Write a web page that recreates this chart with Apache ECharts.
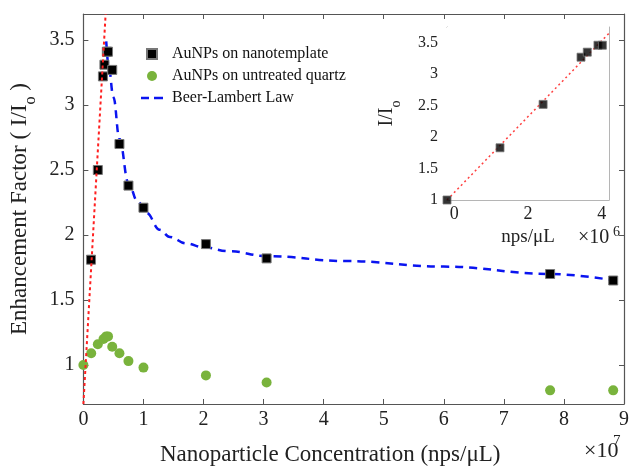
<!DOCTYPE html>
<html>
<head>
<meta charset="utf-8">
<script src="https://cdn.jsdelivr.net/npm/echarts@6/dist/echarts.min.js"></script>
<style>
html, body { margin: 0; padding: 0; background: #fff; }
#container { width: 632px; height: 471px; }
</style>
</head>
<body>
<div id="container"></div>
<script>
// main plot data (x in nps/uL)
var blackX = [1.27e6, 2.4e6, 3.25e6, 3.5e6, 3.9e6, 4.1e6, 4.8e6, 6.0e6, 7.5e6, 1.0e7, 2.04e7, 3.05e7, 7.77e7, 8.82e7];
var blackY = [1.81, 2.50, 3.22, 3.31, 3.41, 3.41, 3.27, 2.70, 2.38, 2.21, 1.93, 1.82, 1.70, 1.65];

var greenX = [0, 1.3e6, 2.4e6, 3.35e6, 3.8e6, 4.1e6, 4.8e6, 6.0e6, 7.5e6, 1.0e7, 2.04e7, 3.05e7, 7.77e7, 8.82e7];
var greenY = [1.00, 1.09, 1.16, 1.20, 1.22, 1.22, 1.14, 1.09, 1.03, 0.98, 0.92, 0.865, 0.805, 0.805];

var beerX = [3.8e6, 4.2e6, 5.0e6, 6.0e6, 7.5e6, 9.0e6, 1.05e7, 1.27e7, 1.44e7, 1.71e7, 2.0e7, 2.43e7, 3.05e7, 4.36e7, 6.0e7, 7.77e7, 8.85e7];
var beerY = [3.49, 3.30, 3.06, 2.74, 2.40, 2.26, 2.17, 2.04, 1.985, 1.935, 1.905, 1.875, 1.838, 1.80, 1.757, 1.70, 1.65];

var fitX = [0, 3.7e6];
var fitY = [0.70, 3.70];

var mainYTicks = [1, 1.5, 2, 2.5, 3, 3.5];

// inset data
var insetX = [-0.2e6, 1.24e6, 2.41e6, 3.44e6, 3.61e6, 3.9e6, 4.02e6];
var insetY = [1.00, 1.83, 2.52, 3.27, 3.35, 3.46, 3.46];

var insetFitX = [-0.2e6, 4.2e6];
var insetFitY = [1.00, 3.65];

var insetXTicks = [0, 2e6, 4e6];
var insetYTicks = [1, 1.5, 2, 2.5, 3, 3.5];

function zip(xs, ys) {
    return xs.map(function (x, i) { return [x, ys[i]]; });
}

var serif = 'Liberation Serif';
var axisCol = '#555';
var insetCol = '#b5b5b5';
var squareIcon = 'path://M0,0L10,0L10,10L0,10Z';
var dashIcon = 'path://M0,0L8,0L8,2.5L0,2.5Z M13,0L22,0L22,2.5L13,2.5Z';

function boxAxis(extra) {
    var base = {
        axisLine: { show: true, onZero: false, lineStyle: { color: axisCol, width: 1.2 } },
        axisTick: { show: true, inside: true, length: 5, lineStyle: { color: axisCol } },
        axisLabel: { show: false },
        splitLine: { show: false }
    };
    return Object.assign(base, extra);
}

const dom = document.getElementById('container');
const myChart = echarts.init(dom);

var option = {
    backgroundColor: '#fff',
    animation: false,
    grid: [
        { left: 83, top: 14, right: 4, bottom: 64 },
        { left: 447, top: 27, width: 162, height: 173, show: true, backgroundColor: '#fff', borderWidth: 0, z: 5 }
    ],
    legend: {
        data: [
            { name: 'AuNPs on nanotemplate', icon: squareIcon },
            { name: 'AuNPs on untreated quartz', icon: 'circle' },
            { name: 'Beer-Lambert Law', icon: dashIcon }
        ],
        orient: 'vertical',
        left: 136,
        top: 41,
        itemWidth: 22,
        itemHeight: 10,
        itemGap: 6,
        textStyle: { fontFamily: serif, fontSize: 16, color: '#111', padding: [0, 0, 0, 4] }
    },
    xAxis: [
        boxAxis({
            type: 'value', gridIndex: 0, position: 'bottom', min: 0, max: 9e7, interval: 1e7,
            axisLabel: { show: true, margin: 6, fontFamily: serif, fontSize: 20, color: '#222',
                formatter: function (v) { return String(Math.round(v / 1e7)); } },
            name: 'Nanoparticle Concentration (nps/μL)',
            nameLocation: 'middle', nameGap: 39,
            nameTextStyle: { fontFamily: serif, fontSize: 23, color: '#222', padding: [0, 47, 0, 0] }
        }),
        boxAxis({ type: 'value', gridIndex: 0, position: 'top', min: 0, max: 9e7, interval: 1e7 }),
        boxAxis({
            type: 'value', gridIndex: 1, position: 'bottom', min: -0.2e6, max: 4.2e6,
            axisLine: { show: true, onZero: false, lineStyle: { color: insetCol } },
            axisTick: { show: true, inside: true, length: 4, customValues: insetXTicks, lineStyle: { color: insetCol } },
            axisLabel: { show: true, margin: 5, customValues: insetXTicks, fontFamily: serif, fontSize: 18, color: '#222',
                formatter: function (v) { return String(Math.round(v / 1e6)); } },
            name: 'nps/μL', nameLocation: 'middle', nameGap: 28,
            nameTextStyle: { fontFamily: serif, fontSize: 19, color: '#222' }
        }),
        boxAxis({
            type: 'value', gridIndex: 1, position: 'top', min: -0.2e6, max: 4.2e6,
            axisLine: { show: true, onZero: false, lineStyle: { color: insetCol } },
            axisTick: { show: true, inside: true, length: 4, customValues: insetXTicks, lineStyle: { color: insetCol } }
        })
    ],
    yAxis: [
        boxAxis({
            type: 'value', gridIndex: 0, position: 'left', min: 0.7, max: 3.7,
            axisTick: { show: true, inside: true, length: 5, customValues: mainYTicks, lineStyle: { color: axisCol } },
            axisLabel: { show: true, margin: 9, customValues: mainYTicks, fontFamily: serif, fontSize: 20, color: '#222' },
            name: '{t|Enhancement Factor ( I/I}{s|o}{t| )}',
            nameLocation: 'middle', nameGap: 39, nameRotate: 90,
            nameTextStyle: {
                fontFamily: serif, fontSize: 23, color: '#222',
                rich: {
                    t: { fontFamily: serif, fontSize: 23, color: '#222', lineHeight: 27, verticalAlign: 'middle' },
                    s: { fontFamily: serif, fontSize: 16, color: '#222', lineHeight: 38, verticalAlign: 'bottom' }
                }
            }
        }),
        boxAxis({
            type: 'value', gridIndex: 0, position: 'right', min: 0.7, max: 3.7,
            axisTick: { show: true, inside: true, length: 5, customValues: mainYTicks, lineStyle: { color: axisCol } }
        }),
        boxAxis({
            type: 'value', gridIndex: 1, position: 'left', min: 1, max: 3.75,
            axisLine: { show: true, onZero: false, lineStyle: { color: insetCol } },
            axisTick: { show: true, inside: true, length: 4, customValues: insetYTicks, lineStyle: { color: insetCol } },
            axisLabel: { show: true, margin: 9, customValues: insetYTicks, fontFamily: serif, fontSize: 16, color: '#222' },
            name: '{t|I/I}{s|o}',
            nameLocation: 'middle', nameGap: 44, nameRotate: 90,
            nameTextStyle: {
                fontFamily: serif, fontSize: 20, color: '#222',
                rich: {
                    t: { fontFamily: serif, fontSize: 20, color: '#222', lineHeight: 24, verticalAlign: 'middle' },
                    s: { fontFamily: serif, fontSize: 14, color: '#222', lineHeight: 32, verticalAlign: 'bottom' }
                }
            }
        }),
        boxAxis({
            type: 'value', gridIndex: 1, position: 'right', min: 1, max: 3.75,
            axisLine: { show: true, onZero: false, lineStyle: { color: insetCol } },
            axisTick: { show: true, inside: true, length: 4, customValues: insetYTicks, lineStyle: { color: insetCol } }
        })
    ],
    series: [
        {
            name: 'Beer-Lambert Law', type: 'line', xAxisIndex: 0, yAxisIndex: 0,
            data: zip(beerX, beerY), symbol: 'none', smooth: 0.4, smoothMonotone: 'x',
            lineStyle: { color: '#0a14f0', width: 2.5, type: [8, 6] },
            itemStyle: { color: '#0a14f0' }, z: 2
        },
        {
            name: 'AuNPs on nanotemplate', type: 'scatter', xAxisIndex: 0, yAxisIndex: 0,
            data: zip(blackX, blackY), symbol: 'rect', symbolSize: 9, clip: false,
            itemStyle: { color: '#000', borderColor: '#777', borderWidth: 1, opacity: 1 }, z: 3
        },
        {
            name: 'AuNPs on untreated quartz', type: 'scatter', xAxisIndex: 0, yAxisIndex: 0,
            data: zip(greenX, greenY), symbol: 'circle', symbolSize: 10, clip: false,
            itemStyle: { color: '#79b33c', opacity: 1 }, z: 3
        },
        {
            name: 'fit', type: 'line', xAxisIndex: 0, yAxisIndex: 0,
            data: zip(fitX, fitY), symbol: 'none', silent: true,
            lineStyle: { color: '#ff2020', width: 2, type: [3, 3] }, z: 4
        },
        {
            name: 'inset fit', type: 'line', xAxisIndex: 2, yAxisIndex: 2,
            data: zip(insetFitX, insetFitY), symbol: 'none', silent: true,
            lineStyle: { color: '#ff4040', width: 1.5, type: [2, 3] }, z: 6
        },
        {
            name: 'inset points', type: 'scatter', xAxisIndex: 2, yAxisIndex: 2,
            data: zip(insetX, insetY), symbol: 'rect', symbolSize: 8, clip: false,
            itemStyle: { color: '#000', borderColor: '#777', borderWidth: 1 }, z: 7
        }
    ],
    graphic: [
        { type: 'text', left: 584, top: 440, z: 10, style: { text: '×10', font: '22px "Liberation Serif"', fill: '#222' } },
        { type: 'text', left: 613, top: 434, z: 10, style: { text: '7', font: '15px "Liberation Serif"', fill: '#222' } },
        { type: 'text', left: 578, top: 228, z: 10, style: { text: '×10', font: '20px "Liberation Serif"', fill: '#222' } },
        { type: 'text', left: 613, top: 225, z: 10, style: { text: '6', font: '14px "Liberation Serif"', fill: '#222' } }
    ]
};

if (option && typeof option === 'object') {
    myChart.setOption(option, true);
}
</script>
</body>
</html>
